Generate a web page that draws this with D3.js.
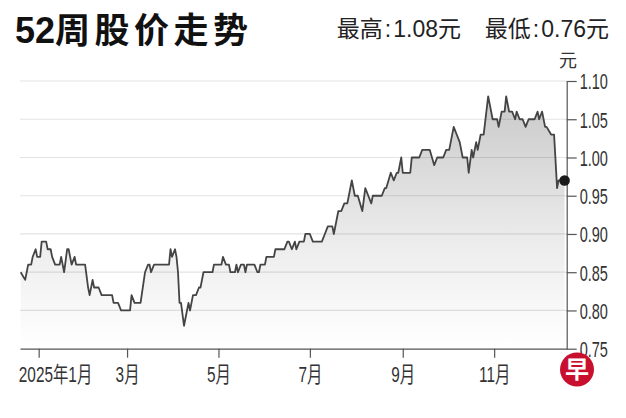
<!DOCTYPE html>
<html>
<head>
<meta charset="utf-8">
<script src="https://cdn.jsdelivr.net/npm/d3@7"></script>
<style>
html, body { margin: 0; padding: 0; background: #fff; }
svg { display: block; }
text { font-family: "Liberation Sans", "Noto Sans CJK SC", sans-serif; }
</style>
</head>
<body>
<svg id="chart" width="626" height="418"></svg>
<script>
// ── Data (turning points of the daily close) ──
const dates = [
  '2024-12-20','2024-12-23','2024-12-25','2024-12-27','2024-12-28','2024-12-30','2024-12-31',
  '2025-01-02','2025-01-03','2025-01-06','2025-01-07','2025-01-09','2025-01-10','2025-01-12',
  '2025-01-15','2025-01-16','2025-01-18','2025-01-20','2025-01-21','2025-01-23','2025-01-25',
  '2025-01-26','2025-02-01','2025-02-03','2025-02-04','2025-02-06','2025-02-07','2025-02-10',
  '2025-02-12','2025-02-19','2025-02-20','2025-02-23','2025-02-25','2025-03-03','2025-03-04',
  '2025-03-06','2025-03-10','2025-03-13','2025-03-15','2025-03-16','2025-03-17','2025-03-19',
  '2025-03-29','2025-03-30','2025-03-31','2025-04-02','2025-04-03','2025-04-04','2025-04-05',
  '2025-04-06','2025-04-08','2025-04-10','2025-04-11','2025-04-12','2025-04-14','2025-04-16',
  '2025-04-18','2025-04-19','2025-04-21','2025-04-27','2025-04-28','2025-05-03','2025-05-04',
  '2025-05-06','2025-05-08','2025-05-09','2025-05-12','2025-05-13','2025-05-14','2025-05-16',
  '2025-05-18','2025-05-19','2025-05-20','2025-05-25','2025-05-27','2025-05-28','2025-05-29',
  '2025-06-01','2025-06-02','2025-06-07','2025-06-08','2025-06-14','2025-06-16','2025-06-17',
  '2025-06-19','2025-06-21','2025-06-22','2025-06-24','2025-06-27','2025-06-28','2025-07-01',
  '2025-07-03','2025-07-09','2025-07-11','2025-07-13','2025-07-16','2025-07-17','2025-07-20',
  '2025-07-22','2025-07-24','2025-07-26','2025-07-27','2025-07-29','2025-07-31','2025-08-02',
  '2025-08-05','2025-08-07','2025-08-09','2025-08-11','2025-08-12','2025-08-18','2025-08-20',
  '2025-08-21','2025-08-24','2025-08-26','2025-08-28','2025-08-29','2025-08-31','2025-09-01',
  '2025-09-06','2025-09-07','2025-09-12','2025-09-14','2025-09-19','2025-09-22','2025-09-24',
  '2025-09-28','2025-09-30','2025-10-02','2025-10-05','2025-10-07','2025-10-09','2025-10-11',
  '2025-10-14','2025-10-15','2025-10-17','2025-10-18','2025-10-20','2025-10-21','2025-10-23',
  '2025-10-25','2025-10-28','2025-10-29','2025-10-31','2025-11-03','2025-11-04','2025-11-06',
  '2025-11-08','2025-11-09','2025-11-11','2025-11-13','2025-11-15','2025-11-16','2025-11-18',
  '2025-11-20','2025-11-22','2025-11-24','2025-11-28','2025-11-30','2025-12-01','2025-12-03',
  '2025-12-05','2025-12-06','2025-12-09','2025-12-11','2025-12-13','2025-12-14','2025-12-16',
  '2025-12-17','2025-12-18'
];
const prices = [
  0.85,0.84,0.86,0.86,0.87,0.88,0.87,
  0.87,0.89,0.89,0.88,0.88,0.87,0.86,
  0.86,0.87,0.85,0.88,0.88,0.86,0.87,
  0.86,0.86,0.83,0.82,0.84,0.83,0.83,
  0.82,0.82,0.81,0.81,0.80,0.80,0.82,
  0.81,0.81,0.85,0.86,0.86,0.85,0.86,
  0.86,0.88,0.87,0.88,0.87,0.85,0.81,
  0.81,0.78,0.80,0.81,0.80,0.82,0.82,
  0.83,0.83,0.85,0.85,0.86,0.86,0.87,
  0.86,0.86,0.85,0.85,0.86,0.85,0.86,
  0.86,0.85,0.86,0.86,0.85,0.85,0.86,
  0.86,0.87,0.87,0.88,0.88,0.89,0.89,
  0.88,0.89,0.88,0.89,0.89,0.90,0.90,
  0.89,0.89,0.90,0.91,0.91,0.90,0.93,
  0.93,0.94,0.94,0.95,0.97,0.95,0.95,
  0.93,0.96,0.95,0.94,0.95,0.95,0.96,
  0.96,0.98,0.97,0.98,0.98,1.00,0.98,
  0.98,1.00,1.00,1.01,1.01,0.99,1.00,
  1.00,1.01,1.01,1.04,1.03,1.02,1.00,
  1.00,0.98,1.01,1.00,1.02,1.01,1.03,
  1.03,1.08,1.07,1.05,1.05,1.04,1.06,
  1.06,1.08,1.06,1.06,1.05,1.06,1.05,
  1.05,1.04,1.05,1.05,1.06,1.05,1.06,
  1.04,1.04,1.03,1.03,0.96,0.97,0.97,
  0.97,0.97
];

const yTickValues = [0.75, 0.80, 0.85, 0.90, 0.95, 1.00, 1.05, 1.10];
const monthTicks = ['2025-01-01','2025-03-01','2025-05-01','2025-07-01','2025-09-01','2025-11-01'];
const monthLabels = ['2025年1月','3月','5月','7月','9月','11月'];

const title = '52周股价走势';
const highParts = ['最高', ':', '1.08元'];
const lowParts = ['最低', ':', '0.76元'];
const unitText = '元';

// ── Layout ──
const plot = { left: 20, right: 566.7, top: 81, bottom: 348.7 };
const parse = d3.timeParse('%Y-%m-%d');
const data = dates.map((d, i) => ({ date: parse(d), price: prices[i] }));

const svg = d3.select('#chart');

const x = d3.scaleTime()
  .domain([new Date(2024, 11, 19, 13), new Date(2025, 11, 19, 10)])
  .range([plot.left, plot.right]);
const y = d3.scaleLinear()
  .domain([0.75, 1.10])
  .range([plot.bottom, plot.top]);

// gradient for the area
const defs = svg.append('defs');
const grad = defs.append('linearGradient')
  .attr('id', 'areaGrad')
  .attr('gradientUnits', 'userSpaceOnUse')
  .attr('x1', 0).attr('x2', 0)
  .attr('y1', y(1.08)).attr('y2', plot.bottom);
grad.append('stop').attr('offset', '0%').attr('stop-color', '#000').attr('stop-opacity', 0.21);
grad.append('stop').attr('offset', '60%').attr('stop-color', '#000').attr('stop-opacity', 0.07);
grad.append('stop').attr('offset', '100%').attr('stop-color', '#000').attr('stop-opacity', 0.0);

// Grid
svg.append('g').selectAll('line')
  .data(yTickValues.filter(v => v > 0.75))
  .enter().append('line')
  .attr('x1', plot.left).attr('x2', plot.right)
  .attr('y1', d => y(d)).attr('y2', d => y(d))
  .attr('stroke', '#e3e3e3').attr('stroke-width', 1.2);

// Area + line
svg.append('path')
  .datum(data)
  .attr('fill', 'url(#areaGrad)')
  .attr('d', d3.area().x(d => x(d.date)).y0(plot.bottom).y1(d => y(d.price)));

svg.append('path')
  .datum(data)
  .attr('fill', 'none')
  .attr('stroke', '#444')
  .attr('stroke-width', 1.8)
  .attr('stroke-linejoin', 'round')
  .attr('d', d3.line().x(d => x(d.date)).y(d => y(d.price)));

// Axes
const xAxis = svg.append('g')
  .attr('transform', 'translate(0,' + plot.bottom + ')')
  .call(d3.axisBottom(x).tickValues(monthTicks.map(parse)).tickSize(9).tickSizeOuter(0)
    .tickFormat((d, i) => monthLabels[i]));
xAxis.select('.domain').attr('stroke', '#555').attr('stroke-width', 1.2);
xAxis.selectAll('.tick line').attr('stroke', '#555').attr('stroke-width', 1.2);
xAxis.selectAll('.tick text')
  .attr('y', null).attr('dy', null)
  .attr('text-anchor', (d, i) => i === 0 ? 'start' : 'middle')
  .attr('transform', (d, i) => (i === 0 ? 'translate(-20.4,33)' : 'translate(0,33)') + ' scale(0.7,1)')
  .attr('fill', '#333')
  .style('font-size', '22px');

const yAxis = svg.append('g')
  .attr('transform', 'translate(' + plot.right + ',0)')
  .call(d3.axisRight(y).tickValues(yTickValues).tickSize(10).tickSizeOuter(0)
    .tickFormat(d3.format('.2f')));
yAxis.select('.domain').attr('stroke', '#555').attr('stroke-width', 1.2);
yAxis.selectAll('.tick line').attr('stroke', '#555').attr('stroke-width', 1.2);
yAxis.selectAll('.tick text')
  .attr('x', null).attr('dy', null)
  .attr('text-anchor', 'start')
  .attr('transform', 'translate(13,7.8) scale(0.66,1)')
  .attr('fill', '#333')
  .style('font-size', '22px');

// last point
const last = data[data.length - 1];
svg.append('circle')
  .attr('cx', x(last.date)).attr('cy', y(last.price))
  .attr('r', 5.3).attr('fill', '#1a1a1a');

// Titles
const t = svg.append('text').attr('x', 15).attr('y', 43)
  .attr('fill', '#111').style('font-weight', '700');
t.append('tspan').style('font-size', '36px').text(title.slice(0, 2));
t.append('tspan').style('font-size', '35px').style('letter-spacing', '4.5px').text(title.slice(2));

function stat(parts, xEnd) {
  const s = svg.append('text').attr('x', xEnd).attr('y', 37).attr('text-anchor', 'end')
    .attr('fill', '#222').style('font-size', '23px');
  s.append('tspan').text(parts[0]);
  s.append('tspan').attr('dx', 2).text(parts[1]);
  s.append('tspan').attr('dx', 2).text(parts[2]);
}
stat(highParts, 461);
stat(lowParts, 609);

svg.append('text').attr('x', 568).attr('y', 67).attr('text-anchor', 'middle')
  .attr('fill', '#333').style('font-size', '18px').text(unitText);

// logo
svg.append('circle').attr('cx', 577).attr('cy', 369.5).attr('r', 17).attr('fill', '#c8102e');
svg.append('text').attr('x', 577).attr('y', 378).attr('text-anchor', 'middle')
  .attr('fill', '#fff').style('font-size', '24px').style('font-weight', '700').text('早');
</script>
</body>
</html>
